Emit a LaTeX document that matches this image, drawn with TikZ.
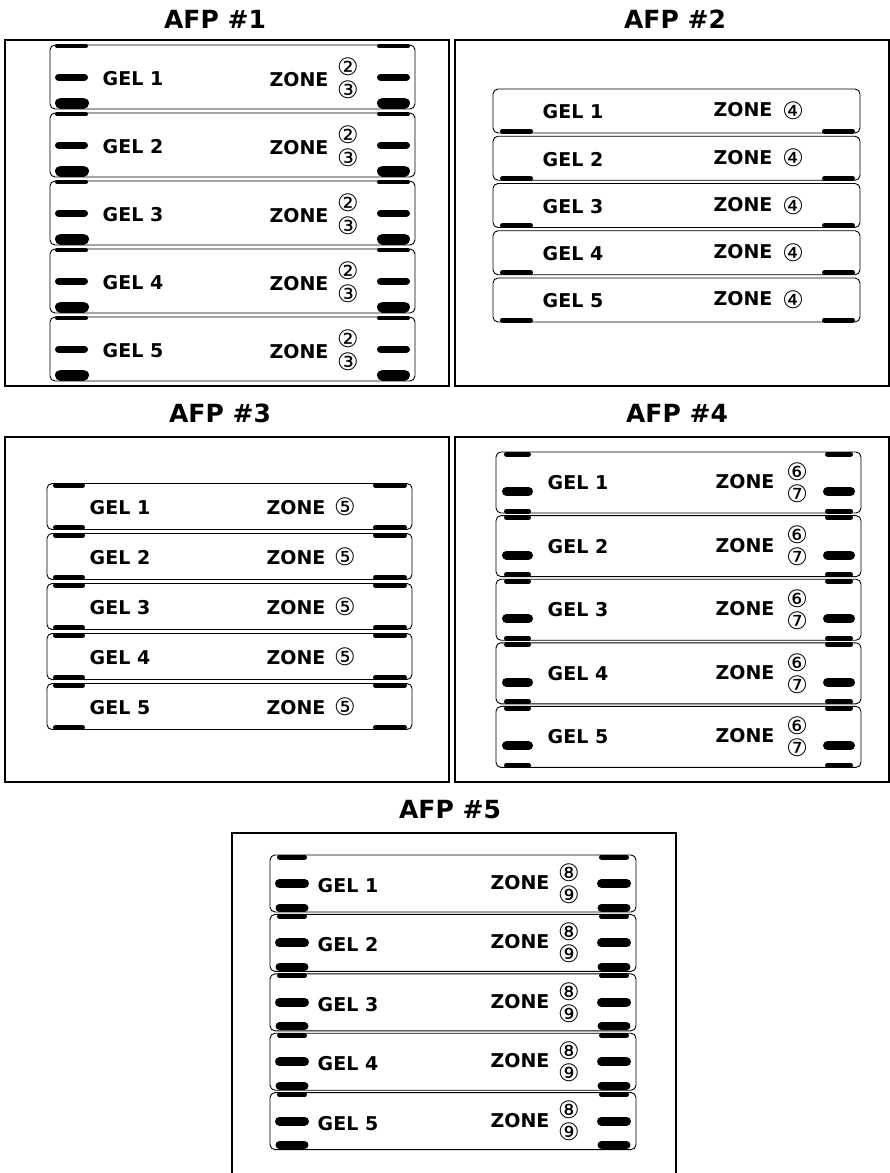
\documentclass[tikz,border=0pt]{standalone}
\usepackage{fontspec}
\setmainfont{DejaVu Sans}
\usetikzlibrary{positioning}
\tikzstyle{frame}=[draw,line width=1.6pt]
\tikzstyle{plate}=[draw,fill=white,line width=0.9pt,rounded corners=5pt,inner sep=0pt]
\tikzstyle{title}=[font=\fontsize{25}{25}\selectfont\bfseries,inner sep=0pt]
\tikzstyle{gel}=[font=\fontsize{19}{19}\selectfont\bfseries,inner sep=0pt]
\tikzstyle{num}=[font=\fontsize{24}{24}\selectfont,inner sep=0pt]
\tikzstyle{bar}=[line cap=round]

\begin{document}
\begin{tikzpicture}[x=1pt,y=-1pt]
    \useasboundingbox (0,0) rectangle (890,1173);

    % titles and frames
    \foreach \x/\y/\name/\t in {215/19/t1/1, 675/19/t2/2, 220/413/t3/3, 677/413/t4/4, 450/810/t5/5}
        \node[title] (\name) at (\x,\y) {AFP \#\t};

    \draw[frame] (5,40) rectangle (449,386);
    \draw[frame] (455,40) rectangle (889,386);
    \draw[frame] (5,437) rectangle (449,782);
    \draw[frame] (455,437) rectangle (889,782);
    \draw[frame] (232,1175) -- (232,833) -- (676,833) -- (676,1175);

    % AFP #1
    \foreach \i in {1,...,5} {
        \pgfmathsetmacro\c{77+68*(\i-1)}
        \node[plate, minimum width=365pt, minimum height=64pt] (a\i) at (232.5,\c) {};
        \foreach \l/\r in {58.5/84.5, 380.5/406.5}
            \draw[bar, line width=7pt] (\l,\c) -- (\r,\c);
        \foreach \l/\r in {60.5/83.5, 382.5/404.5}
            \draw[bar, line width=11pt] (\l,\c+26) -- (\r,\c+26);
        \foreach \l/\r in {57/86, 379/408}
            \draw[bar, line width=4pt] (\l,\c-31) -- (\r,\c-31);
        \node[gel] (a\i g) at (133,\c+2) {GEL \i};
        \node[gel] (a\i z) at (299,\c+3) {ZONE};
        \node[num] (a\i m) at (348,\c-10) {②};
        \node[num] (a\i n) at (348,\c+13) {③};
    }

    % AFP #2
    \foreach \i in {1,...,5} {
        \pgfmathsetmacro\c{111+47.25*(\i-1)}
        \node[plate, minimum width=367pt, minimum height=44pt] (b\i) at (676.5,\c) {};
        \foreach \l/\r in {502.5/530.5, 824.5/852.5}
            \draw[bar, line width=5pt] (\l,\c+20) -- (\r,\c+20);
        \node[gel] (b\i g) at (573,\c+1) {GEL \i};
        \node[gel] (b\i z) at (743,\c-1) {ZONE};
        \node[num] (b\i m) at (793,\c) {④};
    }

    % AFP #3
    \foreach \i in {1,...,5} {
        \pgfmathsetmacro\c{506.5+50*(\i-1)}
        \node[plate, minimum width=365pt, minimum height=46pt] (c\i) at (229.5,\c) {};
        \foreach \l/\r in {55.5/82.5, 375.5/404.5} {
            \draw[bar, line width=5pt] (\l,\c-21) -- (\r,\c-21);
            \draw[bar, line width=5pt] (\l,\c+21) -- (\r,\c+21);
        }
        \node[gel] (c\i g) at (120,\c+1) {GEL \i};
        \node[gel] (c\i z) at (296,\c+1) {ZONE};
        \node[num] (c\i m) at (345,\c) {⑤};
    }

    % AFP #4
    \foreach \i in {1,...,5} {
        \pgfmathsetmacro\c{482.5+63.6*(\i-1)}
        \node[plate, minimum width=365pt, minimum height=61pt] (d\i) at (678.5,\c) {};
        \foreach \l/\r in {506.5/528.5, 827.5/850.5} {
            \draw[bar, line width=5pt] (\l,\c-28.5) -- (\r,\c-28.5);
            \draw[bar, line width=5pt] (\l,\c+28.5) -- (\r,\c+28.5);
            \draw[bar, line width=9pt] (\l,\c+9) -- (\r,\c+9);
        }
        \node[gel] (d\i g) at (578,\c) {GEL \i};
        \node[gel] (d\i z) at (745,\c-1) {ZONE};
        \node[num] (d\i m) at (797,\c-11) {⑥};
        \node[num] (d\i n) at (797,\c+11) {⑦};
    }

    % AFP #5
    \foreach \i in {1,...,5} {
        \pgfmathsetmacro\c{883.5+59.4*(\i-1)}
        \node[plate, minimum width=366pt, minimum height=57pt] (e\i) at (453,\c) {};
        \foreach \l/\r in {279.5/304.5, 601.5/626.5} {
            \draw[bar, line width=5pt] (\l,\c-26.5) -- (\r,\c-26.5);
            \draw[bar, line width=9pt] (\l,\c) -- (\r,\c);
            \draw[bar, line width=8pt] (\l,\c+24) -- (\r,\c+24);
        }
        \node[gel] (e\i g) at (348,\c+2) {GEL \i};
        \node[gel] (e\i z) at (520,\c-1) {ZONE};
        \node[num] (e\i m) at (569,\c-11) {⑧};
        \node[num] (e\i n) at (569,\c+11) {⑨};
    }
\end{tikzpicture}
\end{document}
